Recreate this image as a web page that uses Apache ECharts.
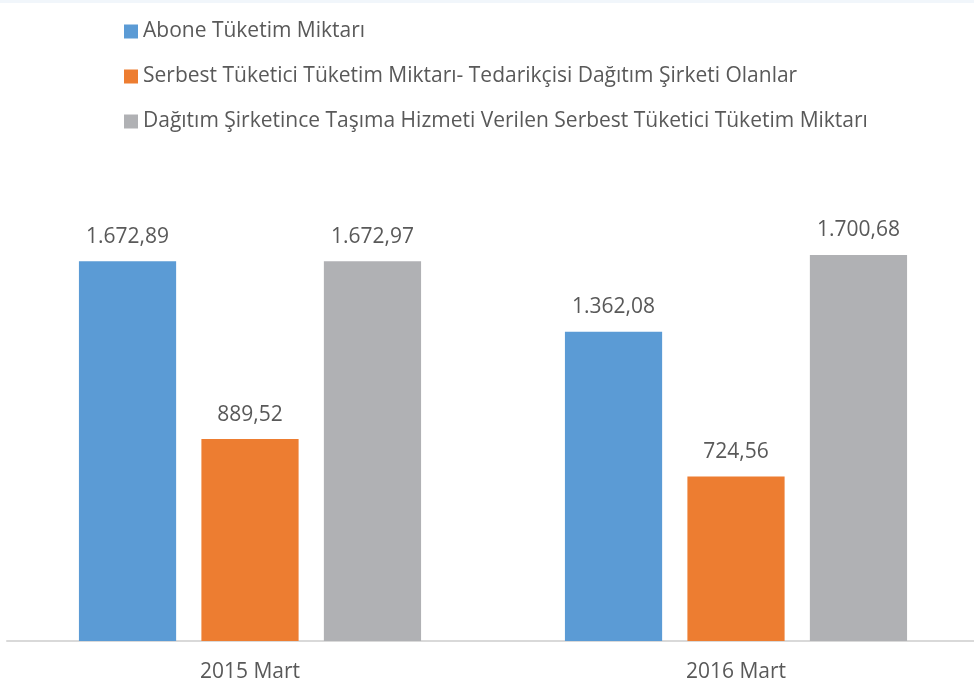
<!DOCTYPE html>
<html>
<head>
<meta charset="utf-8">
<script src="https://cdn.jsdelivr.net/npm/echarts@6/dist/echarts.min.js"></script>
<style>
html,body{margin:0;padding:0;background:#fff;overflow:hidden;}
#chart{width:979px;height:691px;}
</style>
</head>
<body>
<div id="chart"></div>
<script>
var categories = ['2015 Mart', '2016 Mart'];
var seriesNames = [
    'Abone Tüketim Miktarı',
    'Serbest Tüketici Tüketim Miktarı- Tedarikçisi Dağıtım Şirketi Olanlar',
    'Dağıtım Şirketince Taşıma Hizmeti Verilen Serbest Tüketici Tüketim Miktarı'
];
var aboneValues = [1672.89, 1362.08];
var serbestTedarikValues = [889.52, 724.56];
var tasimaValues = [1672.97, 1700.68];
var colors = ['#5b9bd5', '#ed7d31', '#b0b1b4'];

// 1.672,89 biçiminde yaz
function trFormat(v) {
    var parts = v.toFixed(2).split('.');
    var intPart = parts[0].replace(/\B(?=(\d{3})+(?!\d))/g, '.');
    return intPart + ',' + parts[1];
}

var font = '"Open Sans", "DejaVu Sans", sans-serif';
var textColor = '#595959';

function makeSeries(name, data, color) {
    return {
        name: name,
        type: 'bar',
        data: data,
        barWidth: '20%',
        barGap: '26%',
        itemStyle: { color: color },
        label: {
            show: true,
            position: 'top',
            distance: 14,
            color: textColor,
            fontFamily: font,
            fontSize: 21,
            formatter: function (p) { return trFormat(p.value); }
        }
    };
}

var myChart = echarts.init(document.getElementById('chart'));
var option = {
    backgroundColor: '#fff',
    animation: false,
    color: colors,
    graphic: [{
        type: 'rect',
        left: 0, top: 0,
        shape: { width: 979, height: 3 },
        style: { fill: '#f1f6fb' }
    }],
    legend: {
        orient: 'vertical',
        left: 119,
        top: 16,
        itemWidth: 14,
        itemHeight: 14,
        itemGap: 24,
        icon: 'rect',
        textStyle: { color: textColor, fontFamily: font, fontSize: 21, lineHeight: 20 },
        data: seriesNames
    },
    grid: { left: 7, right: 0, top: 187, bottom: 50 },
    xAxis: {
        type: 'category',
        data: categories,
        axisLine: { lineStyle: { color: '#d9d9d9', width: 2 } },
        axisTick: { show: false },
        axisLabel: { color: textColor, fontFamily: font, fontSize: 21, margin: 21 }
    },
    yAxis: {
        type: 'value',
        min: 0,
        max: 2000,
        show: false,
        splitLine: { show: false }
    },
    series: [
        makeSeries(seriesNames[0], aboneValues, colors[0]),
        makeSeries(seriesNames[1], serbestTedarikValues, colors[1]),
        makeSeries(seriesNames[2], tasimaValues, colors[2])
    ]
};
myChart.setOption(option);
</script>
</body>
</html>
